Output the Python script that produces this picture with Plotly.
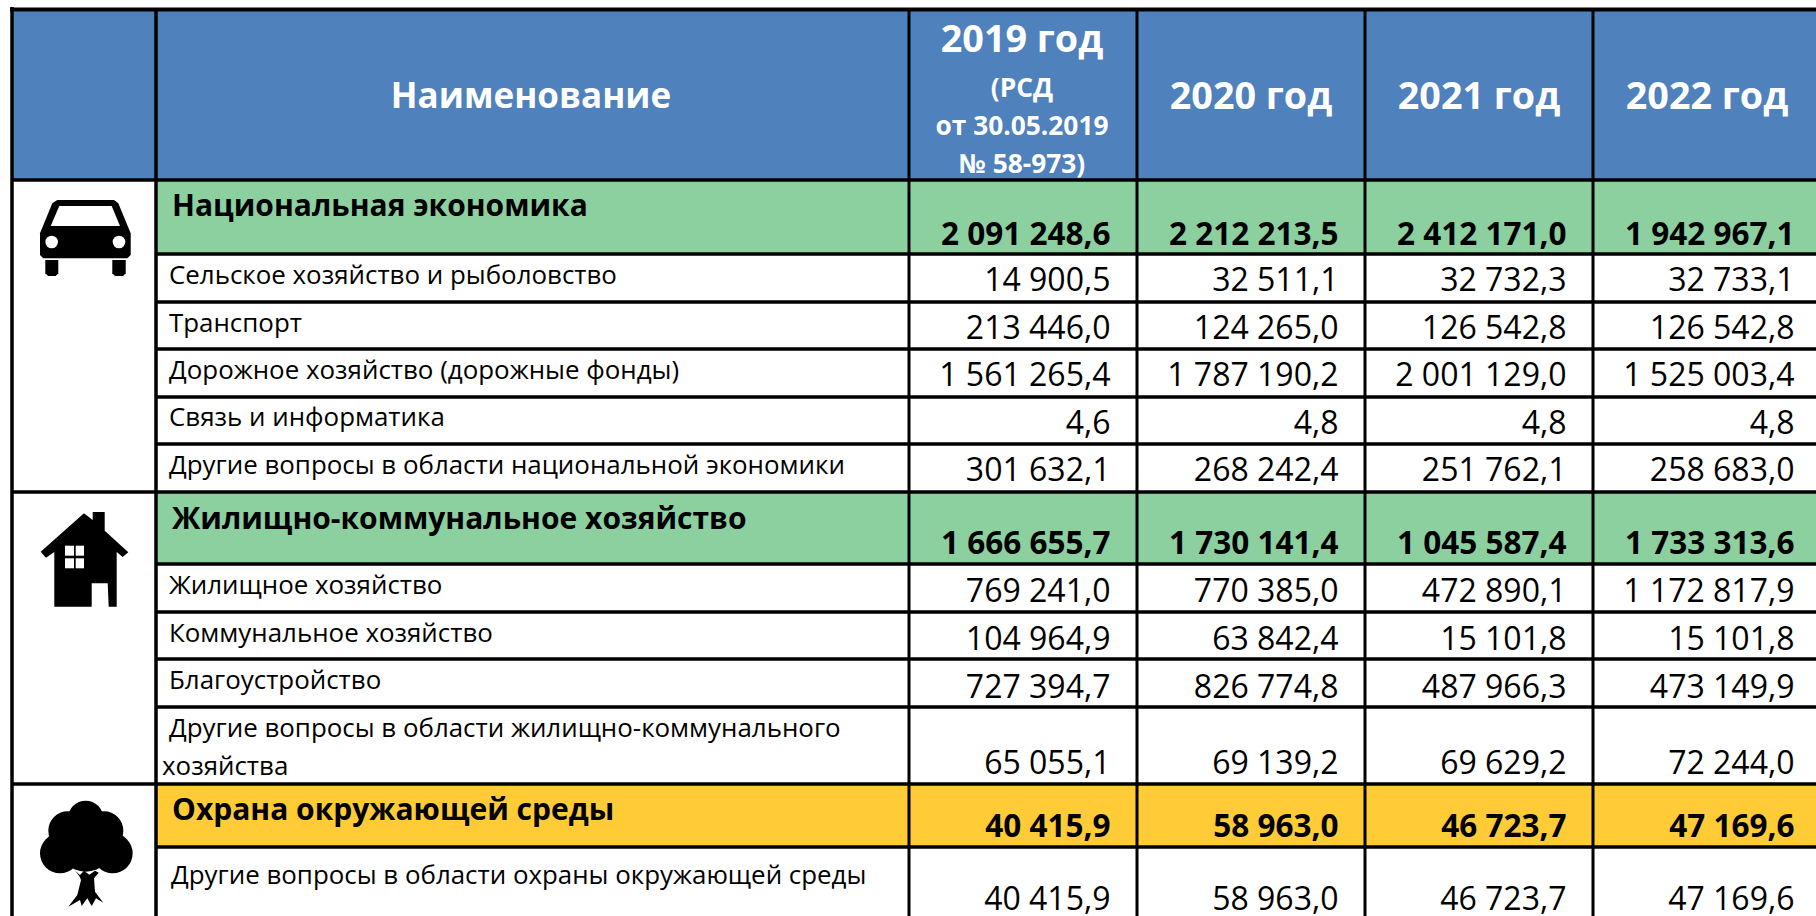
import plotly.graph_objects as go

FONT = "Open Sans"
BLUE, GREEN, YELLOW = "#4F81BD", "#8DD0A0", "#FFCB36"

# ---------- data ----------
years = ["2019 год", "2020 год", "2021 год", "2022 год"]
header_name = "Наименование"
header_2019_note = ["(РСД", "от 30.05.2019", "№ 58-973)"]
section_names = ["Национальная экономика", "Жилищно-коммунальное хозяйство", "Охрана окружающей среды"]
row_labels = [
    "Сельское хозяйство и рыболовство", "Транспорт", "Дорожное хозяйство (дорожные фонды)",
    "Связь и информатика", "Другие вопросы в области национальной экономики",
    "Жилищное хозяйство", "Коммунальное хозяйство", "Благоустройство",
    "Другие вопросы в области жилищно-коммунального", "хозяйства",
    "Другие вопросы в области охраны окружающей среды",
]
section_2019 = ["2 091 248,6", "1 666 655,7", "40 415,9"]
section_2020 = ["2 212 213,5", "1 730 141,4", "58 963,0"]
section_2021 = ["2 412 171,0", "1 045 587,4", "46 723,7"]
section_2022 = ["1 942 967,1", "1 733 313,6", "47 169,6"]
values_2019 = ["14 900,5", "213 446,0", "1 561 265,4", "4,6", "301 632,1", "769 241,0", "104 964,9", "727 394,7", "65 055,1", "40 415,9"]
values_2020 = ["32 511,1", "124 265,0", "1 787 190,2", "4,8", "268 242,4", "770 385,0", "63 842,4", "826 774,8", "69 139,2", "58 963,0"]
values_2021 = ["32 732,3", "126 542,8", "2 001 129,0", "4,8", "251 762,1", "472 890,1", "15 101,8", "487 966,3", "69 629,2", "46 723,7"]
values_2022 = ["32 733,1", "126 542,8", "1 525 003,4", "4,8", "258 683,0", "1 172 817,9", "15 101,8", "473 149,9", "72 244,0", "47 169,6"]

# ---------- layout of the table (pixel scale of the axes) ----------
col_edges = [12, 156, 909, 1137, 1365, 1593, 1821]
top, header_bottom, page_bottom = 10, 180, 916
section_bands = [(180, 254, GREEN), (492, 564, GREEN), (784, 847, YELLOW)]
row_lines = [254, 302, 349, 397, 444, 564, 612, 659, 707, 847]
group_lines = [180, 492, 784]
num_right = [e - 26.5 for e in col_edges[3:]]
year_centers = [1023, 1251, 1479, 1707]
section_label_y = [208, 521, 812]
section_num_y = [237, 546, 829]
row_label_x = [169, 169, 169, 169, 169, 169, 169, 169, 169, 162, 171]
row_label_y = [278, 326, 373, 420, 468, 588, 636, 683, 731, 769, 878]
row_num_y = [283, 331, 378, 426, 473, 594, 642, 690, 766, 902]

shapes = []
def rect(x0, y0, x1, y1, color):
    shapes.append(dict(type="rect", x0=x0, y0=y0, x1=x1, y1=y1, fillcolor=color, line_width=0, layer="below"))
def line(x0, y0, x1, y1, w=3):
    shapes.append(dict(type="line", x0=x0, y0=y0, x1=x1, y1=y1, line=dict(color="black", width=w), layer="below"))
def path(d, color="black"):
    shapes.append(dict(type="path", path=d, fillcolor=color, line_width=0, layer="above"))
def disc(cx, cy, r, color="black"):
    shapes.append(dict(type="circle", x0=cx - r, y0=cy - r, x1=cx + r, y1=cy + r, fillcolor=color, line_width=0, layer="above"))

rect(col_edges[0], top, col_edges[-1], header_bottom, BLUE)
for y0, y1, c in section_bands:
    rect(col_edges[1], y0, col_edges[-1], y1, c)
line(col_edges[0] - 2, 9.5, col_edges[-1], 9.5, 4)
for y in group_lines:
    line(col_edges[0], y, col_edges[-1], y, 3.5)
for y in row_lines:
    line(col_edges[1], y, col_edges[-1], y, 3.5)
line(col_edges[0], top - 3, col_edges[0], page_bottom, 3.5)
line(col_edges[1], top, col_edges[1], page_bottom, 3.5)
for x in col_edges[2:-1]:
    line(x, top, x, page_bottom, 3)

# ---------- icons ----------
def zoomed(points, ox, oy):
    return "M" + " L".join(f"{ox + a / 3:.1f},{oy + b / 3:.1f}" for a, b in points) + " Z"

# car
path(zoomed([(172, 90), (342, 90), (355, 100), (392, 190), (392, 255), (382, 265), (130, 265), (120, 255), (120, 190), (157, 100)], 0, 170))
path(zoomed([(178, 108), (335, 108), (360, 168), (152, 168)], 0, 170), "white")
disc(155 / 3, 170 + 216 / 3, 6.3, "white")
disc(357 / 3, 170 + 216 / 3, 6.3, "white")
path(zoomed([(136, 270), (175, 270), (175, 310), (167, 318), (144, 318), (136, 310)], 0, 170))
path(zoomed([(337, 270), (377, 270), (377, 310), (369, 318), (345, 318), (337, 310)], 0, 170))

# house
path(zoomed([(252, 70), (278, 90), (278, 66), (314, 66), (314, 122), (385, 187), (368, 201), (350, 186), (350, 350),
             (326, 350), (323, 280), (275, 280), (275, 350), (163, 350), (163, 186), (138, 203), (122, 185)], 0, 490))
for a0, a1, b0, b1 in [(195, 222, 167, 197), (227, 252, 167, 197), (195, 222, 205, 235), (227, 252, 205, 235)]:
    path(zoomed([(a0, b0), (a1, b0), (a1, b1), (a0, b1)], 0, 490), "white")

# tree
for cx, cy, r in [(257, 115, 53), (203, 152, 58), (312, 152, 58), (180, 220, 60), (338, 220, 60), (257, 190, 85)]:
    disc(cx / 3, 780 + cy / 3, r / 3)
path(zoomed([(225, 272), (240, 285), (252, 272), (268, 284), (285, 272), (296, 278), (282, 295), (285, 335), (310, 368), (288, 355),
             (275, 378), (262, 355), (245, 378), (240, 360), (205, 380), (232, 345), (243, 300), (238, 288)], 0, 780))

# ---------- text ----------
fig = go.Figure()
def text(xs, ys, labels, size, pos, color="black", weight="normal"):
    fig.add_trace(go.Scatter(x=xs, y=ys, text=labels, mode="text", textposition=pos, hoverinfo="skip", showlegend=False,
                             cliponaxis=False, textfont=dict(family=FONT, size=size, color=color, weight=weight)))

text([531], [99], [header_name], 35, "middle center", "white", "bold")
text([1022], [43], years[:1], 37.7, "middle center", "white", "bold")
text([1251, 1479, 1707], [100, 100, 100], years[1:], 37.7, "middle center", "white", "bold")
text([1022] * 3, [90, 128, 166], header_2019_note, 26.3, "middle center", "white", "bold")
text([172] * 3, section_label_y, section_names, 30, "middle right", weight="bold")
text(row_label_x, row_label_y, row_labels, 25.9, "middle right")
for right, sec, vals in zip(num_right, [section_2019, section_2020, section_2021, section_2022],
                            [values_2019, values_2020, values_2021, values_2022]):
    text([right] * 3, section_num_y, sec, 31.5, "middle left", weight="bold")
    text([right] * len(vals), row_num_y, vals, 32, "middle left")

fig.update_layout(
    width=1816, height=916, margin=dict(l=0, r=0, t=0, b=0), paper_bgcolor="white", plot_bgcolor="white",
    xaxis=dict(range=[0, 1816], visible=False, fixedrange=True),
    yaxis=dict(range=[916, 0], visible=False, fixedrange=True),
    shapes=shapes, showlegend=False,
)
fig.write_html("out.html", config=dict(displayModeBar=False),
               post_script="document.body.style.margin='0';document.body.style.overflow='hidden';")
